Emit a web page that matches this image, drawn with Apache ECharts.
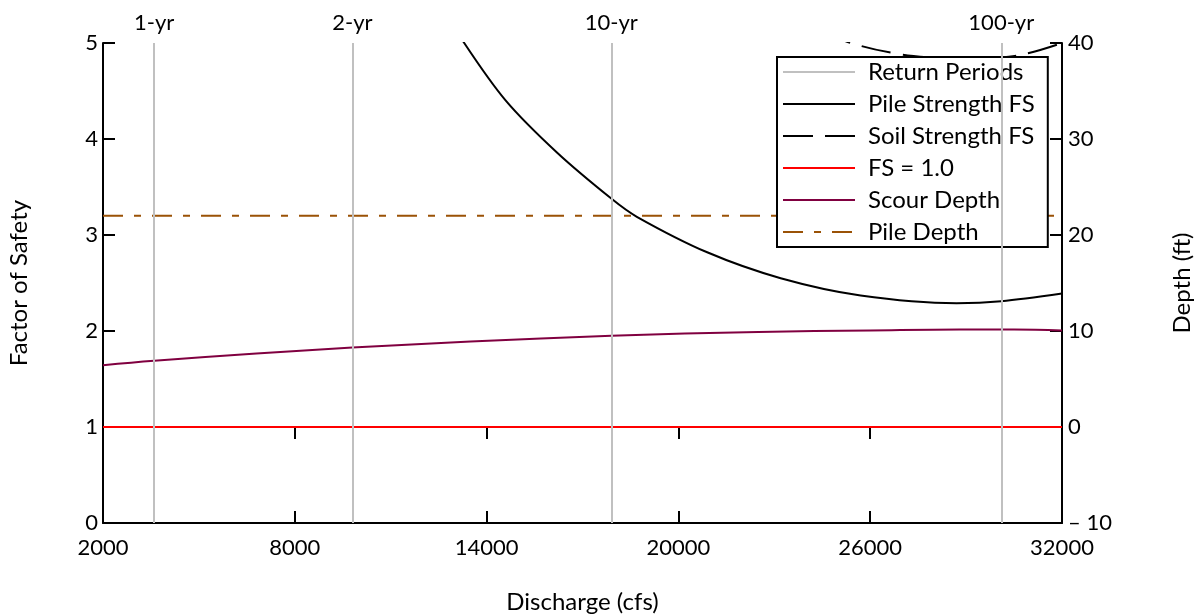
<!DOCTYPE html>
<html><head><meta charset="utf-8">
<script src="https://cdn.jsdelivr.net/npm/echarts@6/dist/echarts.min.js"></script>
<style>html,body{margin:0;padding:0;background:#fff}#c{width:1198px;height:616px}</style>
</head><body><div id="c"></div>
<script>
const returnPeriodQ = [3600, 9800, 17900, 30100];
const returnPeriodLabels = ['1-yr', '2-yr', '10-yr', '100-yr'];
const pileStrengthQ = [12500, 13300, 14600, 16200, 17900, 18700, 20900, 23200, 25700, 28700, 30100, 32000];
const pileStrengthFS = [5.45, 5.0, 4.40, 3.86, 3.38, 3.19, 2.82, 2.55, 2.37, 2.29, 2.31, 2.39];
const soilStrengthQ = [24500, 25400, 26800, 28000, 29000, 30000, 30900, 32000];
const soilStrengthFS = [5.12, 5.0, 4.89, 4.845, 4.83, 4.845, 4.89, 5.0];
const fsLineQ = [2000, 32000];
const fsLineValue = [1.0, 1.0];
const scourQ = [2000, 3600, 6800, 9800, 13500, 17900, 22500, 26000, 28800, 30500, 32000];
const scourDepth = [6.43, 6.9, 7.65, 8.27, 8.9, 9.5, 9.9, 10.05, 10.15, 10.15, 10.05];
const pileDepthQ = [2000, 32000];
const pileDepthFt = [22, 22];

const zip = (a, b) => a.map((v, i) => [v, b[i]]);
const FONT = 'Lato';
const axisLineStyle = { show: true, lineStyle: { color: '#000', width: 2 } };
const tickStyle = { show: true, inside: true, length: 12, lineStyle: { color: '#000', width: 2 } };

const chart = echarts.init(document.getElementById('c'), null, { renderer: 'canvas' });
chart.setOption({
  animation: false,
  backgroundColor: '#fff',
  textStyle: { fontFamily: FONT, color: '#000' },
  grid: { left: 103, top: 43, width: 959, height: 480, containLabel: false, outerBoundsMode: 'none' },
  legend: {
    left: 777, top: 57, orient: 'vertical',
    padding: [3, 13, 3, 5], itemGap: 8, itemWidth: 72, itemHeight: 14,
    backgroundColor: '#fff', borderColor: '#000', borderWidth: 2, borderRadius: 0,
    itemStyle: { opacity: 0 },
    textStyle: { fontFamily: FONT, fontSize: 24, lineHeight: 24, color: '#000', padding: [0, 0, 0, 8] },
    data: ['Return Periods', 'Pile Strength FS', 'Soil Strength FS', 'FS = 1.0', 'Scour Depth', 'Pile Depth']
  },
  xAxis: [
    {
      type: 'value', position: 'bottom', min: 2000, max: 32000, interval: 6000,
      name: 'Discharge (cfs)', nameLocation: 'middle', nameGap: 67,
      nameTextStyle: { fontFamily: FONT, fontSize: 24, color: '#000' },
      axisLine: axisLineStyle, axisTick: tickStyle,
      axisLabel: { fontFamily: FONT, fontSize: 22, color: '#000', margin: 14, formatter: v => String(v) },
      splitLine: { show: false }
    },
    {
      type: 'value', position: 'top', min: 2000, max: 32000, interval: 6000,
      axisLine: axisLineStyle, axisTick: tickStyle,
      axisLabel: {
        show: true, customValues: returnPeriodQ, fontFamily: FONT, fontSize: 22, color: '#000', margin: 9,
        formatter: v => returnPeriodLabels[returnPeriodQ.indexOf(v)] || ''
      },
      splitLine: { show: false }
    }
  ],
  yAxis: [
    {
      type: 'value', position: 'left', min: 0, max: 5, interval: 1,
      name: 'Factor of Safety', nameLocation: 'middle', nameGap: 72, nameRotate: 90,
      nameTextStyle: { fontFamily: FONT, fontSize: 24, color: '#000' },
      axisLine: axisLineStyle, axisTick: tickStyle,
      axisLabel: { fontFamily: FONT, fontSize: 22, color: '#000', margin: 5, padding: [9, 0, 0, 0] },
      splitLine: { show: false }
    },
    {
      type: 'value', position: 'right', min: -10, max: 40, interval: 10,
      name: 'Depth (ft)', nameLocation: 'middle', nameGap: 108, nameRotate: 90,
      nameTextStyle: { fontFamily: FONT, fontSize: 24, color: '#000' },
      axisLine: axisLineStyle, axisTick: tickStyle,
      axisLabel: {
        fontFamily: FONT, fontSize: 22, color: '#000', margin: 6, padding: [9, 0, 0, 0],
        formatter: v => (v < 0 ? '\u2013 ' + Math.abs(v) : String(v))
      },
      splitLine: { show: false }
    }
  ],
  series: [
    {
      name: 'Return Periods', type: 'line', data: [], symbol: 'none', z: 1,
      lineStyle: { color: '#c0c0c0', width: 2 }, itemStyle: { color: '#c0c0c0' },
      markLine: {
        silent: true, symbol: ['none', 'none'], label: { show: false }, animation: false,
        lineStyle: { color: '#c0c0c0', width: 2, type: 'solid' },
        emphasis: { disabled: true },
        data: returnPeriodQ.map(q => ({ xAxis: q }))
      }
    },
    {
      name: 'Pile Strength FS', type: 'line', data: zip(pileStrengthQ, pileStrengthFS),
      smooth: 0.3, symbol: 'none', z: 3,
      lineStyle: { color: '#000', width: 2 }, itemStyle: { color: '#000' }
    },
    {
      name: 'Soil Strength FS', type: 'line', data: zip(soilStrengthQ, soilStrengthFS),
      smooth: 0.4, symbol: 'none', z: 3,
      lineStyle: { color: '#000', width: 2, type: [30, 12] }, itemStyle: { color: '#000' }
    },
    {
      name: 'FS = 1.0', type: 'line', data: zip(fsLineQ, fsLineValue), symbol: 'none', z: 3,
      lineStyle: { color: '#ff0000', width: 2 }, itemStyle: { color: '#ff0000' }
    },
    {
      name: 'Scour Depth', type: 'line', yAxisIndex: 1, data: zip(scourQ, scourDepth),
      smooth: 0.4, symbol: 'none', z: 3,
      lineStyle: { color: '#800040', width: 2 }, itemStyle: { color: '#800040' }
    },
    {
      name: 'Pile Depth', type: 'line', yAxisIndex: 1, data: zip(pileDepthQ, pileDepthFt), symbol: 'none', z: 3,
      lineStyle: { color: '#9a5206', width: 2, type: [20, 11, 7, 11] }, itemStyle: { color: '#9a5206' }
    }
  ]
});
</script>
</body></html>
